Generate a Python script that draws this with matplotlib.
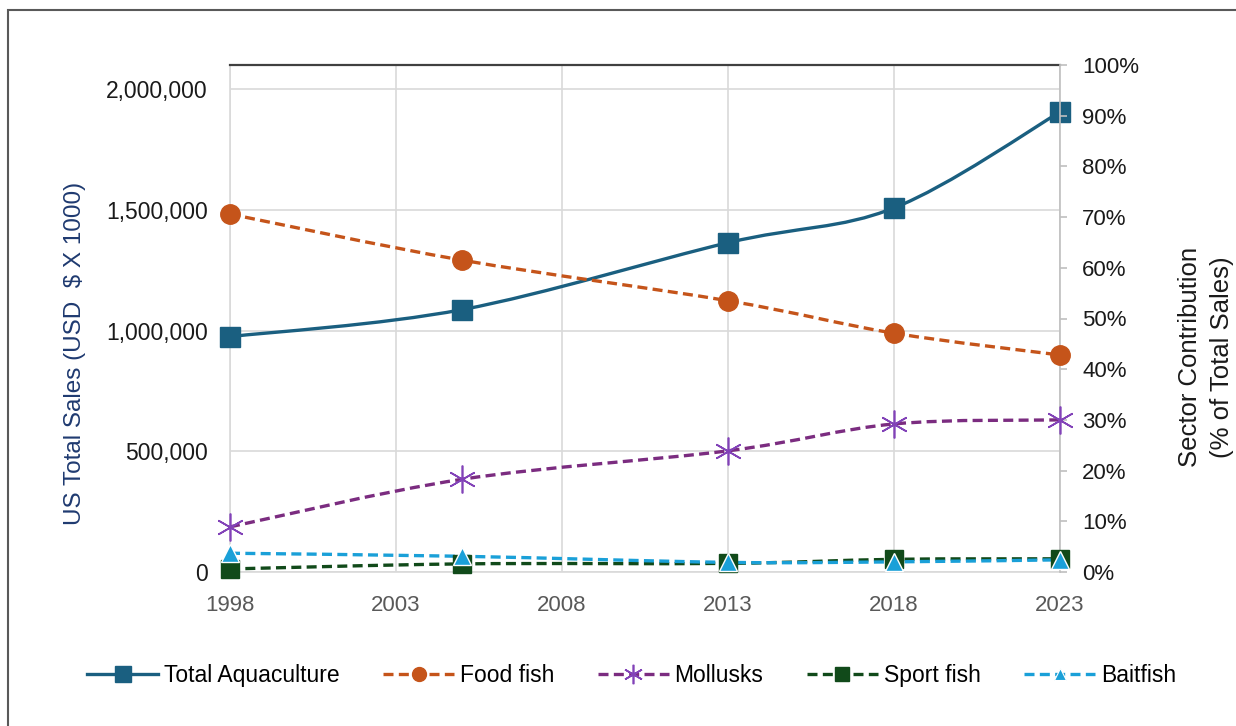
import numpy as np
import matplotlib
matplotlib.use('Agg')
import matplotlib.pyplot as plt
from matplotlib.path import Path
from matplotlib.patches import PathPatch, Rectangle
from matplotlib.lines import Line2D
from matplotlib.ticker import FuncFormatter, PercentFormatter

plt.rcParams['font.family'] = ['Liberation Sans', 'DejaVu Sans']

# data
years = [1998, 2005, 2013, 2018, 2023]
total_sales = [975000, 1087000, 1364000, 1508000, 1905000]   # USD x 1000, left axis
food_fish = [70.6, 61.5, 53.5, 47.1, 42.8]                    # % of total, right axis
mollusks = [8.9, 18.3, 23.9, 29.2, 30.0]
sport_fish = [0.6, 1.6, 1.7, 2.5, 2.6]
baitfish = [3.7, 3.1, 1.9, 2.0, 2.4]

xticks = [1998, 2003, 2008, 2013, 2018, 2023]
left_ticks = [0, 500000, 1000000, 1500000, 2000000]
right_ticks = [0, 10, 20, 30, 40, 50, 60, 70, 80, 90, 100]

c_total = '#1A5F80'
c_food = '#C5541A'
c_moll = '#7B2C80'
c_moll_mk = '#8242B8'
c_sport = '#114A1A'
c_bait = '#1AA0D8'


def smooth_path(xs, ys, k=1/6.):
    # excel-like smoothed line: cubic bezier through the points
    p = np.column_stack([xs, ys]).astype(float)
    n = len(p)
    verts = [p[0]]
    codes = [Path.MOVETO]
    for i in range(n - 1):
        p0 = p[i - 1] if i > 0 else p[i]
        p3 = p[i + 2] if i + 2 < n else p[i + 1]
        c1 = p[i] + (p[i + 1] - p0) * k
        c2 = p[i + 1] - (p3 - p[i]) * k
        verts += [c1, c2, p[i + 1]]
        codes += [Path.CURVE4] * 3
    return Path(verts, codes)


fig = plt.figure(figsize=(12.36, 7.26), dpi=100)
ax = fig.add_axes([230/1236, 154/726, 830/1236, 507/726])
ax2 = ax.twinx()

dash = (0, (3, 1.6))

# Total aquaculture (left axis)
ax.add_patch(PathPatch(smooth_path(years, total_sales), fill=False, ec=c_total, lw=2.4, zorder=3))
ax.plot(years, total_sales, ls='none', marker='s', ms=14.5, color=c_total, mec=c_total, zorder=4, clip_on=False)

# sectors (right axis)
ax2.add_patch(PathPatch(smooth_path(years, food_fish), fill=False, ec=c_food, lw=2.4, ls=dash, zorder=3))
ax2.plot(years, food_fish, ls='none', marker='o', ms=14, color=c_food, zorder=4, clip_on=False)

ax2.add_patch(PathPatch(smooth_path(years, mollusks), fill=False, ec=c_moll, lw=2.4, ls=dash, zorder=3))
ax2.plot(years, mollusks, ls='none', marker=(6, 2, 0), ms=20, mew=1.2, color=c_moll_mk, zorder=4, clip_on=False)

ax2.add_patch(PathPatch(smooth_path(years, sport_fish), fill=False, ec=c_sport, lw=2.4, ls=dash, zorder=3))
ax2.plot(years, sport_fish, ls='none', marker='s', ms=13.5, color=c_sport, mec=c_sport, zorder=4, clip_on=False)

ax2.add_patch(PathPatch(smooth_path(years, baitfish), fill=False, ec=c_bait, lw=2.4, ls=dash, zorder=3))
ax2.plot(years, baitfish, ls='none', marker='^', ms=13, color=c_bait, mec='white', mew=1, zorder=5, clip_on=False)

# axes setup
ax.set_xlim(1998, 2023)
ax.set_xticks(xticks)
ax.set_ylim(0, 2100000)
ax.set_yticks(left_ticks)
ax.yaxis.set_major_formatter(FuncFormatter(lambda v, p: f'{int(v):,}'))
ax.grid(True, color='#D9D9D9', lw=1.2)
ax.set_axisbelow(True)
ax.tick_params(axis='y', length=0, labelsize=16.5, pad=16, labelcolor='#1a1a1a')
ax.tick_params(axis='x', length=0, labelsize=16, pad=16.5, labelcolor='#595959')

ax2.set_ylim(0, 100)
ax2.set_yticks(right_ticks)
ax2.yaxis.set_major_formatter(PercentFormatter(decimals=0))
ax2.tick_params(axis='y', length=5, color='#BFBFBF', width=1.2, labelsize=16, pad=11, labelcolor='#1a1a1a')

for s in ['left', 'bottom']:
    ax.spines[s].set_color('#D9D9D9')
    ax.spines[s].set_linewidth(1.2)
ax.spines['top'].set_color('#404040')
ax.spines['top'].set_linewidth(1.6)
ax.spines['right'].set_visible(False)
for s in ['left', 'bottom', 'top']:
    ax2.spines[s].set_visible(False)
ax2.spines['right'].set_color('#BFBFBF')
ax2.spines['right'].set_linewidth(1.2)

ax.set_ylabel('US Total Sales (USD  $ X 1000)', fontsize=17.5, color='#1F3A70')
ax.yaxis.set_label_coords(-0.187, 0.432)
ax.yaxis.label.set(ha='center', va='center')

ax2.set_ylabel('Sector Contribution\n(% of Total Sales)', fontsize=18.5, color='#1a1a1a', linespacing=1.4)
ax2.yaxis.set_label_coords(1.176, 0.424)
ax2.yaxis.label.set(ha='center', va='center')

# legend
handles = [
    Line2D([], [], color=c_total, lw=2.4, marker='s', ms=11, mec=c_total),
    Line2D([], [], color=c_food, lw=2.4, ls=dash, marker='o', ms=10),
    Line2D([], [], color=c_moll, lw=2.4, ls=dash, marker=(6, 2, 0), ms=14, mew=1.2, mec=c_moll_mk),
    Line2D([], [], color=c_sport, lw=2.4, ls=dash, marker='s', ms=10, mec=c_sport),
    Line2D([], [], color=c_bait, lw=2.4, ls=dash, marker='^', ms=9, mec='white', mew=0.8),
]
labels = ['Total Aquaculture', 'Food fish', 'Mollusks', 'Sport fish', 'Baitfish']
fig.legend(handles, labels, loc='center', bbox_to_anchor=(0.511, 0.07), ncol=5, frameon=False,
           fontsize=16.5, handlelength=3.1, handletextpad=0.25, columnspacing=1.9)

# outer frame (cut off at right and bottom like the source)
fig.add_artist(Rectangle((8/1236, -0.1), 1.2, 1.1 - 10/726, transform=fig.transFigure,
                         fill=False, ec='#595959', lw=1.5))

fig.savefig('out.png', dpi=100)
